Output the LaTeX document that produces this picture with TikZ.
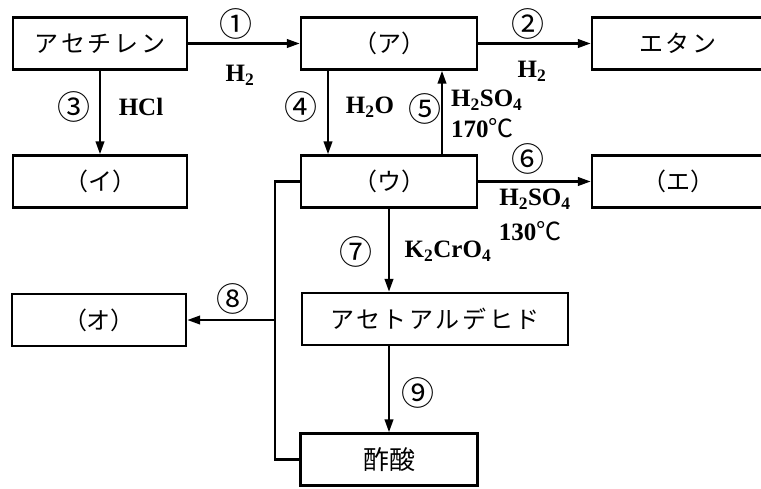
\documentclass[tikz,border=0pt]{standalone}
\usepackage{fontspec}
\setmainfont{Liberation Serif}
\newfontfamily\jp{Noto Sans CJK JP}
\newfontfamily\jpsp[LetterSpace=11]{Noto Sans CJK JP}
\usetikzlibrary{arrows.meta,positioning}
\tikzset{
  chbox/.style={
    draw=black, line width=2.4pt, inner sep=0pt,
    minimum height=52pt, font=\fontsize{24}{24}\selectfont\jp
  },
  spbox/.style={chbox, font=\fontsize{24}{24}\selectfont\jpsp},
  arr/.style={-{Triangle[length=13pt,width=8.5pt]}, line width=2.4pt},
  ln/.style={line width=2.4pt},
  num/.style={font=\fontsize{33}{33}\selectfont\jp, inner sep=0pt},
  reag/.style={font=\fontsize{25}{25}\selectfont\bfseries, inner sep=0pt}
}
\newcommand{\degc}{{\mdseries\jp ℃}}

\begin{document}
\begin{tikzpicture}[x=1pt,y=-1pt]
  \useasboundingbox (0,0) rectangle (761,488);
  \node[spbox, minimum width=174pt] (acet) at (100,43.5) {アセチレン};
  \node[chbox, minimum width=176pt] (a) at (389,43.5) {（ア）};
  \node[spbox, minimum width=172pt] (ethane) at (678,43.5) {エタン};
  \node[chbox, minimum width=174pt] (i) at (100,181.5) {（イ）};
  \node[chbox, minimum width=176pt] (u) at (389,181.5) {（ウ）};
  \node[chbox, minimum width=172pt] (e) at (678,181.5) {（エ）};
  \node[chbox, minimum width=174pt] (o) at (99,320) {（オ）};
  \node[spbox, minimum width=266pt] (ald) at (435,319) {アセトアルデヒド};
  \node[spbox, minimum width=177pt, font=\fontsize{26}{26}\selectfont\jp] (acid) at (389,459.5) {酢酸};
  \coordinate (jn) at (275,320);

  \draw[arr] (acet) -- (a);
  \draw[arr] (a) -- (ethane);
  \draw[arr] (acet) -- (i);
  \draw[arr] ([xshift=-61pt]a.south) -- ([xshift=-61pt]u.north);
  \draw[arr] ([xshift=53pt]u.north) -- ([xshift=53pt]a.south);
  \draw[arr] (u) -- (e);
  \draw[arr] (u.south) -- (u.south |- ald.north);
  \draw[arr] (ald.south -| acid.north) -- (acid.north);
  \draw[ln] (u.west) -| (jn) |- (acid.west);
  \draw[arr] (jn) -- (o.east);

  \node[num] (n1) at (236,24) {①};
  \node[reag] (h1) at (240,75) {H\textsubscript{2}};
  \node[num] (n2) at (528,24) {②};
  \node[reag] (h2) at (532,71) {H\textsubscript{2}};
  \node[num] (n3) at (74,107) {③};
  \node[reag] (hcl) at (141,107) {HCl};
  \node[num] (n4) at (301,107) {④};
  \node[reag] (h2o) at (370,107) {H\textsubscript{2}O};
  \node[num] (n5) at (425,109) {⑤};
  \node[reag, anchor=west] (s5) at (451,100) {H\textsubscript{2}SO\textsubscript{4}};
  \node[reag, anchor=west] (t5) at (451,128) {170\degc};
  \node[num] (n6) at (528,159) {⑥};
  \node[reag] (s6) at (535,199) {H\textsubscript{2}SO\textsubscript{4}};
  \node[reag] (t6) at (530,231) {130\degc};
  \node[num] (n7) at (356,252) {⑦};
  \node[reag] (k7) at (448,251) {K\textsubscript{2}CrO\textsubscript{4}};
  \node[num] (n8) at (233,299) {⑧};
  \node[num] (n9) at (418,393) {⑨};
\end{tikzpicture}
\end{document}
